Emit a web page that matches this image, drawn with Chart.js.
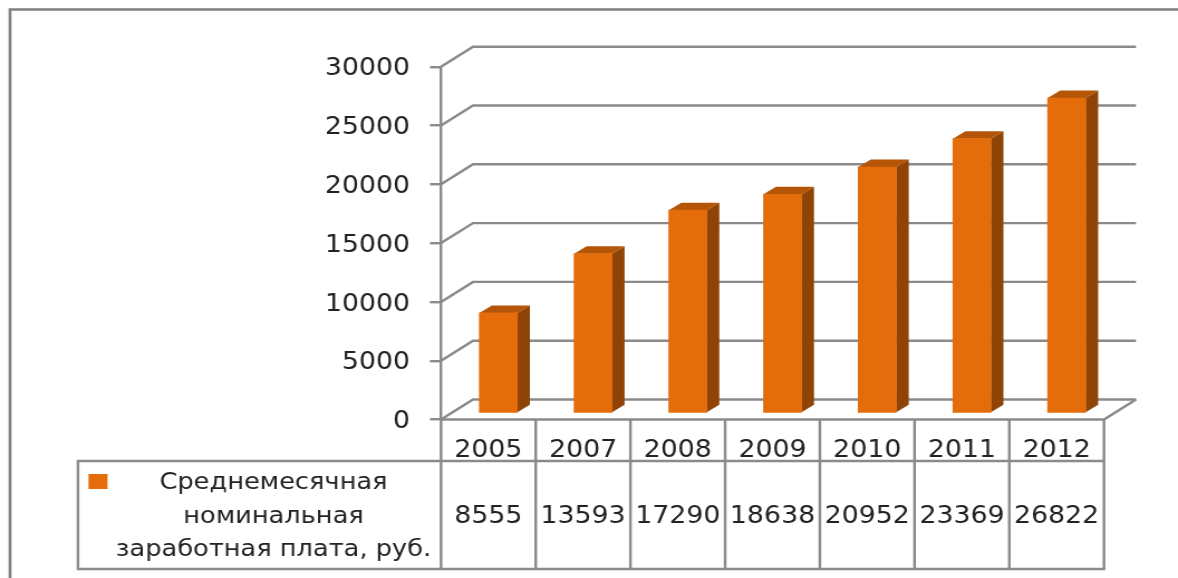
<!DOCTYPE html>
<html lang="ru">
<head>
<meta charset="utf-8">
<title>Среднемесячная номинальная заработная плата</title>
<script src="https://cdn.jsdelivr.net/npm/chart.js@4"></script>
<style>
html,body{margin:0;padding:0;background:#fff;overflow:hidden}
canvas{display:block;width:1178px !important;height:578px !important;filter:blur(0.45px)}
</style>
</head>
<body>
<canvas id="c" width="1056" height="578"></canvas>
<script>
const categories = ['2005','2007','2008','2009','2010','2011','2012'];
const wages = [8555,13593,17290,18638,20952,23369,26822];
const seriesLines = ['Среднемесячная','номинальная','заработная плата, руб.'];
const yTicks = [0,5000,10000,15000,20000,25000,30000];

const SX = 1178/1056;                 // the picture is stretched horizontally
const px = v => v/SX;
const GRAY = '#8a8a8a', TEXT = '#222222';
const FONT = '23px "DejaVu Sans"';
const NUM_SIZE = 24;
const wall = {dx:px(32), dy:-20};
const barShift = {dx:px(10), dy:-6};
const depth = {dx:px(12.5), dy:-7.5};

function line(ctx, pts){
  ctx.beginPath();
  pts.forEach((p,i)=> i ? ctx.lineTo(p[0],p[1]) : ctx.moveTo(p[0],p[1]));
  ctx.stroke();
}
function poly(ctx, pts, fill){
  ctx.beginPath();
  pts.forEach((p,i)=> i ? ctx.lineTo(p[0],p[1]) : ctx.moveTo(p[0],p[1]));
  ctx.closePath();
  ctx.fillStyle = fill;
  ctx.fill();
}

const scene = {
  id:'scene',
  beforeDraw(chart){
    const {ctx, chartArea:a, scales:{x,y}} = chart;
    ctx.save();
    ctx.fillStyle='#fff';
    ctx.fillRect(0,0,chart.width,chart.height);
    ctx.strokeStyle='#808080';
    ctx.lineWidth=2.6;
    line(ctx,[[px(10),chart.height+2],[px(10),9.5],[chart.width+2,9.5]]);

    // back wall + floor
    ctx.strokeStyle=GRAY;
    ctx.lineWidth=2.4;
    yTicks.forEach(v=>{
      const py=y.getPixelForValue(v);
      line(ctx,[[a.left,py],[a.left+wall.dx,py+wall.dy],[a.right+wall.dx,py+wall.dy]]);
    });
    const y0=y.getPixelForValue(0);
    line(ctx,[[a.left,y0],[a.right,y0],[a.right+wall.dx,y0+wall.dy]]);

    // data table
    const step=x.getPixelForValue(1)-x.getPixelForValue(0);
    const rowTop=461, rowBottom=569, tableLeft=px(78);
    line(ctx,[[a.right,y0],[a.right,rowBottom],[tableLeft,rowBottom],[tableLeft,rowTop],[a.right,rowTop]]);
    categories.forEach((c,i)=>{
      const bx=x.getPixelForValue(i)-step/2;
      line(ctx,[[bx,y0],[bx,rowBottom]]);
    });
    ctx.restore();
  },
  beforeDatasetsDraw(chart){
    const ctx=chart.ctx;
    ctx.save();
    ctx.translate(barShift.dx,barShift.dy);
    chart.getDatasetMeta(0).data.forEach(el=>{
      const l=el.x-el.width/2, r=el.x+el.width/2, t=el.y, b=el.base;
      poly(ctx,[[r,t],[r+depth.dx,t+depth.dy],[r+depth.dx,b+depth.dy],[r,b]],'#8f4406');
      poly(ctx,[[l,t],[l+depth.dx,t+depth.dy],[r+depth.dx,t+depth.dy],[r,t]],'#b45508');
    });
  },
  afterDatasetsDraw(chart){
    chart.ctx.restore();
  },
  afterDraw(chart){
    const {ctx, scales:{x}} = chart;
    ctx.save();
    ctx.fillStyle=TEXT;
    ctx.textAlign='center';
    ctx.textBaseline='middle';
    ctx.font=NUM_SIZE+'px "DejaVu Sans"';
    wages.forEach((v,i)=> ctx.fillText(String(v), x.getPixelForValue(i), 517));
    ctx.font=FONT;
    const rowsY=[483.5,517,550];
    seriesLines.forEach((s,i)=> ctx.fillText(s, px(273.5), rowsY[i]));
    ctx.fillStyle='#e46c0a';
    ctx.fillRect(px(88.5),474,px(19),15);
    ctx.restore();
  }
};

new Chart(document.getElementById('c'),{
  type:'bar',
  data:{labels:categories,datasets:[{
    label:seriesLines.join(' '),
    data:wages,
    backgroundColor:'#e46c0a',
    borderWidth:0,
    barThickness:px(38),
    clip:false
  }]},
  plugins:[scene],
  options:{
    responsive:false,
    animation:false,
    events:[],
    layout:{padding:{top:66.7,right:px(1178-1104),bottom:0,left:0}},
    plugins:{legend:{display:false},title:{display:false},tooltip:{enabled:false}},
    scales:{
      x:{
        offset:true,
        afterFit(s){s.height=578-419.5;},
        grid:{display:false},
        border:{display:false},
        ticks:{font:{family:'DejaVu Sans',size:NUM_SIZE},color:TEXT,padding:9,maxRotation:0,autoSkip:false}
      },
      y:{
        min:0,max:30000,
        afterFit(s){s.width=px(441);},
        afterBuildTicks(s){s.ticks=yTicks.map(v=>({value:v}));},
        grid:{drawOnChartArea:false,drawTicks:true,tickLength:px(11),color:GRAY,lineWidth:2.4},
        border:{display:true,color:GRAY,width:2.4},
        ticks:{font:{family:'DejaVu Sans',size:NUM_SIZE},color:TEXT,padding:px(20),labelOffset:2.5,callback:v=>String(v)}
      }
    }
  }
});
</script>
</body>
</html>
